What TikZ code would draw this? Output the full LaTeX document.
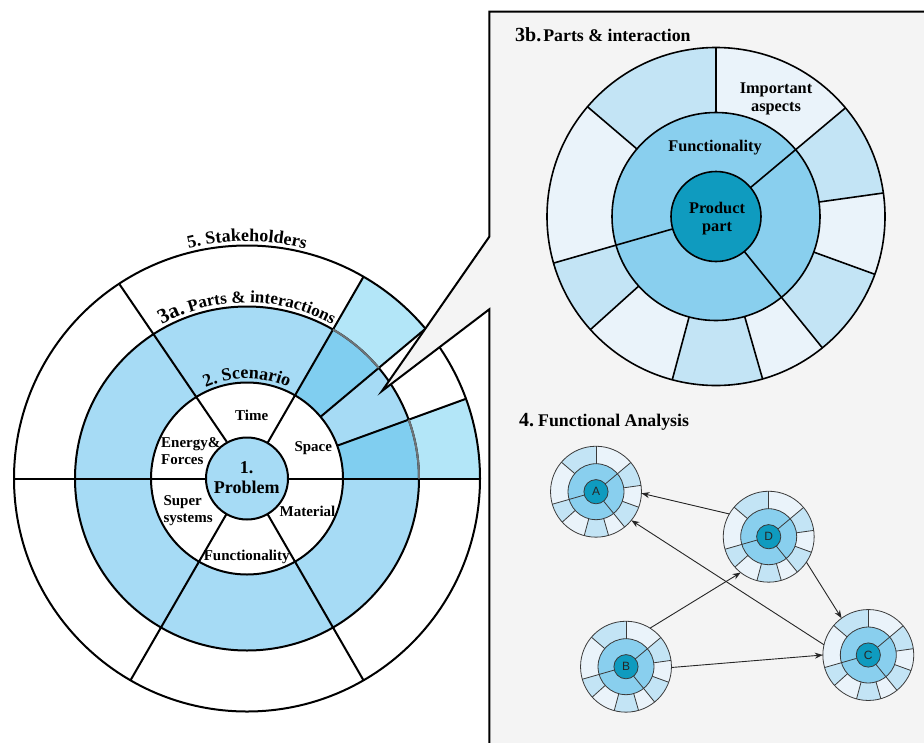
\documentclass[tikz,border=0pt]{standalone}
\usepackage{fontspec}
\setmainfont{Liberation Serif}
\newfontfamily\letterfont{Liberation Sans}
\usetikzlibrary{arrows.meta,decorations.text}
\definecolor{midblue}{HTML}{A6DBF5}
\definecolor{hiouter}{HTML}{B3E6F8}
\definecolor{himid}{HTML}{80CEF0}
\definecolor{boxgray}{HTML}{F4F4F4}
\definecolor{prodcol}{HTML}{0F9BBF}
\definecolor{funccol}{HTML}{89CFEE}
\definecolor{segdark}{HTML}{C3E4F5}
\definecolor{seglight}{HTML}{EAF3FA}
\definecolor{hiline}{HTML}{6E7478}
\definecolor{smallline}{HTML}{3A3A3A}
\newcommand{\ringpiece}[5]{\fill[#5] (#1:#3) arc[start angle=#1,end angle=#2,radius=#3] -- (#2:#4) arc[start angle=#2,end angle=#1,radius=#4] -- cycle;}
\newcommand{\arcfont}{\fontsize{18}{20}\selectfont\bfseries}
\newcommand{\arcmid}{\fontsize{17}{19}\selectfont\bfseries}
\newcommand{\arcbig}{\fontsize{21}{23}\selectfont\bfseries}
\newcommand{\wheelbody}[1]{%
  \fill[seglight] (0,0) circle[radius=169];
  \ringpiece{90}{139.5}{104}{169}{segdark}
  \ringpiece{196}{222}{104}{169}{segdark}
  \ringpiece{255}{286}{104}{169}{segdark}
  \ringpiece{309}{340}{104}{169}{segdark}
  \ringpiece{8}{40}{104}{169}{segdark}
  \fill[funccol] (0,0) circle[radius=104];
  \foreach \a in {90,139.5,222,255,286,340,8} \draw[#1] (\a:104) -- (\a:169);
  \foreach \a in {40,196,309} \draw[#1] (\a:45) -- (\a:169);
  \draw[#1] (0,0) circle[radius=169];
  \draw[#1] (0,0) circle[radius=104];
  \filldraw[#1, fill=prodcol] (0,0) circle[radius=45];
}
\begin{document}
\begin{tikzpicture}[x=1pt,y=1pt,
  bigline/.style={line width=2pt, draw=black},
  wline/.style={line width=1.6pt, draw=black},
  sline/.style={line width=0.8pt, draw=smallline},
  lbl/.style={font=\fontsize{15}{17}\selectfont\bfseries, inner sep=0pt},
  blbl/.style={font=\fontsize{16.3}{18.5}\selectfont\bfseries, inner sep=0pt, align=center},
  link/.style={line width=0.9pt, draw=black!85, -{Stealth[length=8pt,width=6pt]}},
  wheelnode/.style={circle, minimum size=91pt, inner sep=0pt, outer sep=0pt},
  letter/.style={font=\letterfont\fontsize{12}{14}\selectfont, text=black!85, inner sep=0pt}
]
\useasboundingbox (0,0) rectangle (924,-742);
\clip (0,0) rectangle (924,-742);
% right panel background
\fill[boxgray] (489.3,-11.7) rectangle (940,-760);
% left wheel
\begin{scope}[shift={(247,-478.5)}]
  \fill[white] (0,0) circle[radius=233];
  \ringpiece{0}{20}{172}{233}{hiouter}
  \ringpiece{40}{60}{172}{233}{hiouter}
  \fill[midblue] (0,0) circle[radius=172];
  \ringpiece{0}{20}{96}{172}{himid}
  \ringpiece{40}{60}{96}{172}{himid}
  \fill[white] (0,0) circle[radius=96];
  \draw[bigline] (180:233) -- (0:233);
  \foreach \a in {60,240,300} \draw[bigline] (\a:41) -- (\a:233);
  \draw[bigline] (-20.3,36.8) -- (-127.4,194.1);
  \foreach \a in {20,40} \draw[bigline] (\a:96) -- (\a:233);
  \draw[bigline] (0,0) circle[radius=233];
  \draw[bigline] (0,0) circle[radius=172];
  \draw[line width=2pt, hiline] (0:172) arc[start angle=0,end angle=20,radius=172];
  \draw[line width=2pt, hiline] (40:172) arc[start angle=40,end angle=60,radius=172];
  \draw[bigline] (0,0) circle[radius=96];
  \filldraw[bigline, fill=midblue] (0,0) circle[radius=41];
  \path[decorate, decoration={text along path, text align=center,
    text={|\arcfont|5. Stakeholders}}]
    (150:237) arc[start angle=150,end angle=30,radius=237];
  \path[decorate, decoration={text along path, text align=center,
    text={|\arcbig|3a.|\arcmid| Parts {\&} interactions}}]
    (150:176) arc[start angle=150,end angle=30,radius=176];
  \path[decorate, decoration={text along path, text align=center,
    text={|\arcfont|2. Scenario}}]
    (150:100) arc[start angle=150,end angle=30,radius=100];
\end{scope}
% callout and panel outline
\fill[boxgray] (489.3,-236.7) -- (382,-391) -- (489.3,-309.3) -- cycle;
\draw[bigline, line join=miter] (940,-11.7) -- (489.3,-11.7) -- (489.3,-236.7) -- (382,-391) -- (489.3,-309.3) -- (489.3,-760);
% left labels
\node[lbl] (tTime) at (251.7,-415) {Time};
\node[lbl, align=left, anchor=west] (tEnergy) at (161,-451.3) {Energy\&\\Forces};
\node[lbl] (tSpace) at (313.3,-447.7) {Space};
\node[font=\fontsize{18}{20.7}\selectfont\bfseries, align=center, inner sep=0pt] (tProblem) at (246.7,-477.5) {1.\\Problem};
\node[lbl, align=left, anchor=west] (tSuper) at (163.3,-511) {Super\\systems};
\node[lbl] (tMaterial) at (307.5,-511) {Material};
\node[lbl] (tFunc) at (246.7,-556.7) {Functionality};
% 3b wheel
\begin{scope}[shift={(716,-216.5)}]
  \wheelbody{wline}
\end{scope}
\node[anchor=base west, inner sep=0pt] (t3b) at (515,-41) {\fontsize{20}{24}\selectfont\bfseries 3b.\hspace{2pt}\fontsize{17.8}{21}\selectfont Parts \& interaction};
\node[blbl] (tFunc3b) at (715,-148) {Functionality};
\node[blbl] (tImp) at (776,-99) {Important\\aspects};
\node[blbl] (tProd) at (717,-218.5) {Product\\part};
% functional analysis
\node[anchor=base west, inner sep=0pt] (t4) at (519,-426.7) {\fontsize{20}{24}\selectfont\bfseries 4.\hspace{4pt}\fontsize{17.8}{21}\selectfont Functional Analysis};
\begin{scope}[shift={(596,-491.7)}, scale=0.269] \wheelbody{sline} \end{scope}
\begin{scope}[shift={(768.7,-536.7)}, scale=0.269] \wheelbody{sline} \end{scope}
\begin{scope}[shift={(626,-666.7)}, scale=0.269] \wheelbody{sline} \end{scope}
\begin{scope}[shift={(868.3,-655)}, scale=0.269] \wheelbody{sline} \end{scope}
\node[wheelnode] (A) at (596,-491.7) {};
\node[wheelnode] (D) at (768.7,-536.7) {};
\node[wheelnode] (B) at (626,-666.7) {};
\node[wheelnode] (C) at (868.3,-655) {};
\node[letter] (lA) at (A.center) {A};
\node[letter] (lD) at (D.center) {D};
\node[letter] (lB) at (B.center) {B};
\node[letter] (lC) at (C.center) {C};
\draw[link] (D.150) -- (A.-2);
\draw[link] (C.167) -- (A.-39);
\draw[link] (B.58) -- (D.232);
\draw[link] (D.-34) -- (C.126);
\draw[link] (B.-1) -- (C.180);
\end{tikzpicture}
\end{document}
